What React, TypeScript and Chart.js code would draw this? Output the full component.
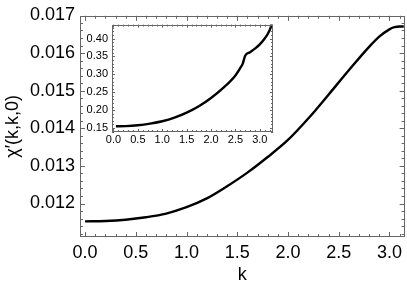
import React, { useEffect, useRef } from "react";
import { Chart, registerables } from "chart.js";

Chart.register(...registerables);

// ---- main curve ----
const kMain = [0, 0.2, 0.4, 0.6, 0.8, 1.0, 1.2, 1.4, 1.6, 1.8, 2.0, 2.2, 2.4, 2.6, 2.8, 2.9, 3.0, 3.05, 3.1, 3.1416];
const chiMain = [0.011526, 0.011536, 0.01157, 0.011635, 0.011733, 0.011902, 0.012135, 0.012459, 0.012821, 0.013236, 0.013689, 0.014259, 0.014894, 0.015541, 0.016163, 0.016435, 0.01663, 0.016687, 0.016707, 0.016707];
const mainXTicks = [0, 0.5, 1.0, 1.5, 2.0, 2.5, 3.0];
const mainYTicks = [0.012, 0.013, 0.014, 0.015, 0.016, 0.017];

// ---- inset curve ----
const kInset = [0.05, 0.25, 0.5, 0.75, 1.0, 1.25, 1.5, 1.75, 2.0, 2.25, 2.5, 2.6, 2.65, 2.7, 2.8, 2.9, 3.0, 3.1, 3.17, 3.22, 3.26];
const chiInset = [0.155, 0.1555, 0.158, 0.1625, 0.169, 0.179, 0.193, 0.211, 0.234, 0.262, 0.297, 0.318, 0.33, 0.352, 0.362, 0.372, 0.384, 0.4, 0.415, 0.43, 0.45];
const insetXTicks = [0, 0.5, 1.0, 1.5, 2.0, 2.5, 3.0];
const insetYTicks = [0.15, 0.2, 0.25, 0.3, 0.35, 0.4];

const FONT = "'Liberation Sans', Arial, Helvetica, sans-serif";
const FRAME = "#666";

function frameTicks(id: string, xMinor: number, yMinor: number, major: number, minor: number) {
  return {
    id,
    afterDraw(chart: any) {
      const { ctx, chartArea: a, scales } = chart;
      const xs = scales.x, ys = scales.y;
      ctx.save();
      ctx.strokeStyle = FRAME;
      ctx.lineWidth = 1;
      ctx.strokeRect(Math.round(a.left) + 0.5, Math.round(a.top) + 0.5, Math.round(a.right - a.left) - 1, Math.round(a.bottom - a.top) - 1);
      ctx.beginPath();
      const xMajor = xs.ticks.map((t: any) => t.value);
      const yMajor = ys.ticks.map((t: any) => t.value);
      const isMajor = (v: number, arr: number[]) => arr.some((m) => Math.abs(m - v) < 1e-9);
      const x0 = Math.ceil(xs.min / xMinor - 1e-9);
      const x1 = Math.floor(xs.max / xMinor + 1e-9);
      for (let i = x0; i <= x1; i++) {
        const v = i * xMinor;
        const len = isMajor(v, xMajor) ? major : minor;
        const px = Math.round(xs.getPixelForValue(v)) + 0.5;
        ctx.moveTo(px, a.bottom); ctx.lineTo(px, a.bottom - len);
        ctx.moveTo(px, a.top); ctx.lineTo(px, a.top + len);
      }
      const y0 = Math.ceil(ys.min / yMinor - 1e-9);
      const y1 = Math.floor(ys.max / yMinor + 1e-9);
      for (let i = y0; i <= y1; i++) {
        const v = i * yMinor;
        const len = isMajor(v, yMajor) ? major : minor;
        const py = Math.round(ys.getPixelForValue(v)) + 0.5;
        ctx.moveTo(a.left, py); ctx.lineTo(a.left + len, py);
        ctx.moveTo(a.right, py); ctx.lineTo(a.right - len, py);
      }
      ctx.stroke();
      ctx.restore();
    },
  };
}

export default function App() {
  const mainRef = useRef<HTMLCanvasElement>(null);
  const insetRef = useRef<HTMLCanvasElement>(null);

  useEffect(() => {
    const main = new Chart(mainRef.current!, {
      type: "line",
      data: {
        datasets: [{
          data: kMain.map((k, i) => ({ x: k, y: chiMain[i] })),
          borderColor: "#000",
          borderWidth: 2.4,
          pointRadius: 0,
          cubicInterpolationMode: "monotone",
        }],
      },
      options: {
        animation: false,
        responsive: false,
        devicePixelRatio: 1,
        events: [],
        layout: { padding: { top: 10, right: 2, left: 0, bottom: 0 } },
        plugins: { legend: { display: false }, tooltip: { enabled: false } },
        scales: {
          x: {
            type: "linear",
            min: -0.05,
            max: 3.15,
            afterBuildTicks: (s: any) => { s.ticks = mainXTicks.map((v) => ({ value: v })); },
            afterFit: (s: any) => { s.height = 50; },
            grid: { display: false, drawTicks: false },
            border: { display: false },
            ticks: { font: { family: FONT, size: 18 }, color: "#000", padding: 5, maxRotation: 0, autoSkip: false, callback: (v: any) => Number(v).toFixed(1) },
            title: { display: true, text: "k", font: { family: FONT, size: 18 }, color: "#000", padding: { top: 0, bottom: 1 } },
          },
          y: {
            type: "linear",
            min: 0.01111,
            max: 0.01699,
            afterBuildTicks: (s: any) => { s.ticks = mainYTicks.map((v) => ({ value: v })); },
            afterFit: (s: any) => { s.width = 80; },
            grid: { display: false, drawTicks: false },
            border: { display: false },
            ticks: { font: { family: FONT, size: 18 }, color: "#000", padding: 5, autoSkip: false, callback: (v: any) => Number(v).toFixed(3) },
            title: { display: true, text: "χ′(k,k,0)", font: { family: FONT, size: 18 }, color: "#000", padding: { top: 2, bottom: 0 } },
          },
        },
      },
      plugins: [frameTicks("mainFrame", 0.1, 0.0002, 5, 3)],
    } as any);

    const inset = new Chart(insetRef.current!, {
      type: "line",
      data: {
        datasets: [{
          data: kInset.map((k, i) => ({ x: k, y: chiInset[i] })),
          borderColor: "#000",
          borderWidth: 2.4,
          pointRadius: 0,
          cubicInterpolationMode: "monotone",
        }],
      },
      options: {
        animation: false,
        responsive: false,
        devicePixelRatio: 1,
        events: [],
        layout: { padding: { top: 5, right: 5, left: 0, bottom: 0 } },
        plugins: { legend: { display: false }, tooltip: { enabled: false } },
        scales: {
          x: {
            type: "linear",
            min: -0.03,
            max: 3.27,
            afterBuildTicks: (s: any) => { s.ticks = insetXTicks.map((v) => ({ value: v })); },
            afterFit: (s: any) => { s.height = 14; },
            grid: { display: false, drawTicks: false },
            border: { display: false },
            ticks: { font: { family: FONT, size: 11 }, color: "#000", padding: 1, maxRotation: 0, autoSkip: false, callback: (v: any) => Number(v).toFixed(1) },
          },
          y: {
            type: "linear",
            min: 0.139,
            max: 0.439,
            afterBuildTicks: (s: any) => { s.ticks = insetYTicks.map((v) => ({ value: v })); },
            afterFit: (s: any) => { s.width = 30; },
            grid: { display: false, drawTicks: false },
            border: { display: false },
            ticks: { font: { family: FONT, size: 11 }, color: "#000", padding: 4, autoSkip: false, callback: (v: any) => Number(v).toFixed(2) },
          },
        },
      },
      plugins: [frameTicks("insetFrame", 0.1, 0.01, 3, 2)],
    } as any);

    return () => { main.destroy(); inset.destroy(); };
  }, []);

  return (
    <div style={{ position: "fixed", left: 0, top: 0, width: 407, height: 287, background: "#fff" }}>
      <canvas ref={mainRef} width={407} height={287} style={{ position: "absolute", left: 0, top: 0 }} />
      <canvas ref={insetRef} width={196} height={132} style={{ position: "absolute", left: 82, top: 14 }} />
    </div>
  );
}
